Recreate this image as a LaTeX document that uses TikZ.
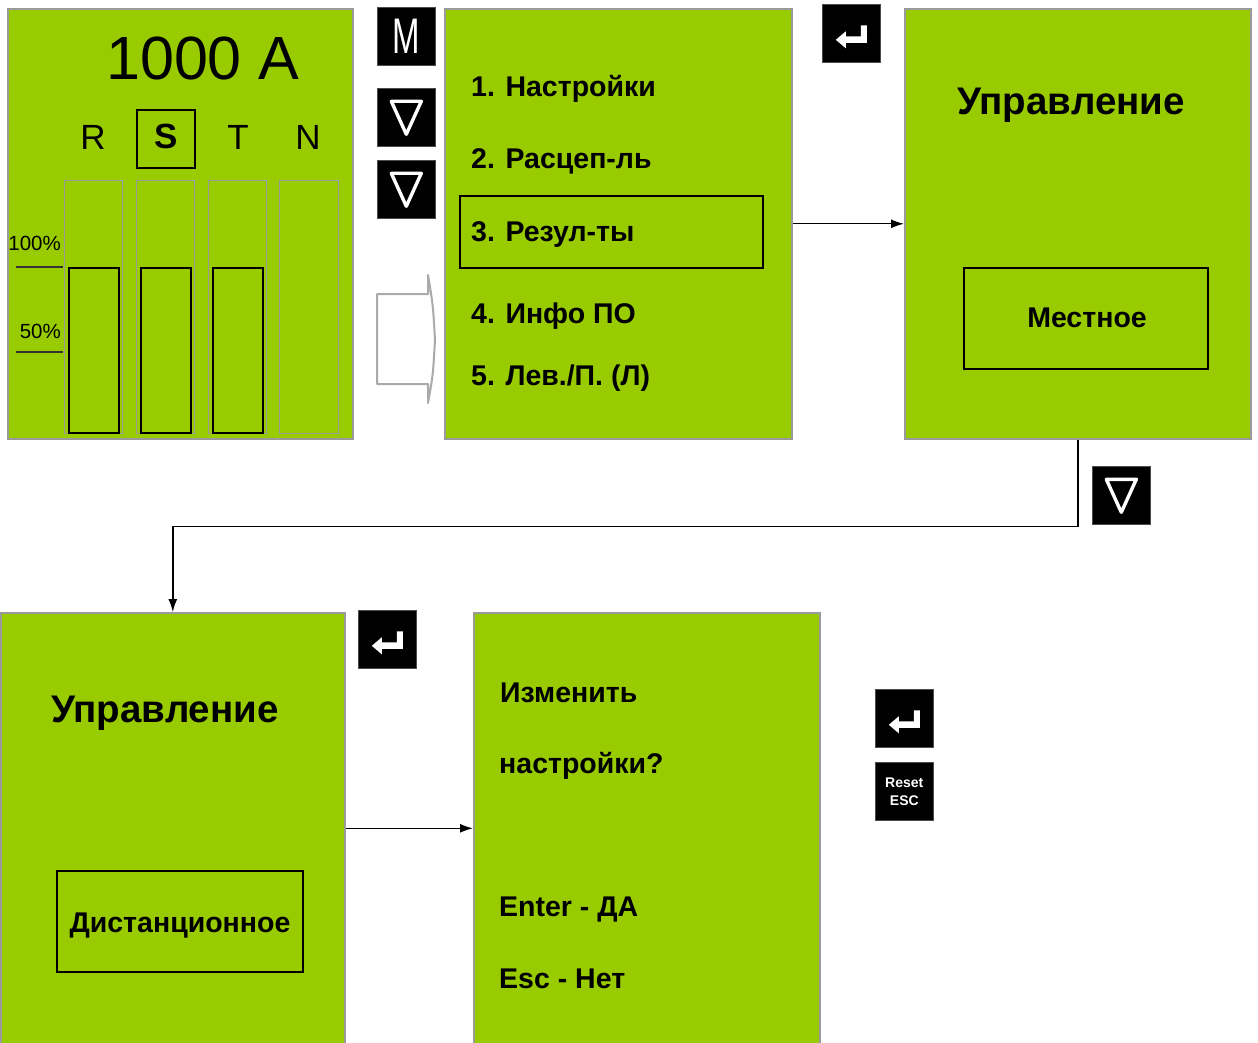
\documentclass[tikz,border=0pt]{standalone}
\usepackage{fontspec}
\setmainfont{Liberation Sans}
\usetikzlibrary{arrows.meta}
\definecolor{lcd}{HTML}{99CC00}
\definecolor{frame}{HTML}{9A9A9A}
\definecolor{hollow}{HTML}{AAAAAA}
\tikzset{
  x=1pt, y=-1pt,
  panel/.style={draw=frame, fill=lcd, line width=1.6pt, inner sep=0pt, anchor=north west},
  keybox/.style={fill=black, draw=black!70, line width=0.6pt, inner sep=0pt, minimum width=58pt, minimum height=58pt, anchor=north west},
  selbox/.style={draw=black, line width=1.6pt, inner sep=0pt, anchor=north west},
  graybar/.style={draw=frame, line width=1.4pt, inner sep=0pt, anchor=north west},
  blackbar/.style={draw=black, line width=1.6pt, inner sep=0pt, anchor=north west},
  txt/.style={inner sep=0pt, text=black},
  menu/.style={txt, anchor=base west, font=\bfseries\fontsize{28.5}{30}\selectfont},
  title/.style={txt, anchor=base west, font=\bfseries\fontsize{38.5}{40}\selectfont},
  phase/.style={txt, anchor=base, font=\fontsize{35}{36}\selectfont},
  pct/.style={txt, anchor=base east, font=\fontsize{20.5}{21}\selectfont},
  conn/.style={draw=black, line width=1.4pt, -{Latex[length=13pt,width=9pt]}},
  downsym/.pic={\draw[white, line width=3.4pt, line join=round] (-15,-16) -- (15,-16) -- (0,17) -- cycle;},
  entersym/.pic={\fill[white] (-15.5,6.5) -- (-5.5,-2) -- (-5.5,3) -- (9.5,3) -- (9.5,-8) -- (15.5,-8) -- (15.5,9.5) -- (-5.5,9.5) -- (-5.5,15) -- cycle;},
}
\begin{document}
\begin{tikzpicture}
\useasboundingbox[fill=white] (0,0) rectangle (1258,1043);

% ---------- panels ----------
\node[panel, minimum width=345pt, minimum height=430pt] (p1) at (7,8) {};
\node[panel, minimum width=347pt, minimum height=430pt] (p2) at (444,8) {};
\node[panel, minimum width=346pt, minimum height=430pt] (p3) at (904,8) {};
\node[panel, minimum width=344pt, minimum height=431pt] (p4) at (0,612) {};
\node[panel, minimum width=346pt, minimum height=431pt] (p5) at (473,612) {};

% ---------- panel 1 ----------
\node[txt, anchor=base west, font=\fontsize{61}{62}\selectfont] (amp) at (106,80) {1000 A};
\node[phase] (phR) at (93,150) {R};
\node[phase, font=\bfseries\fontsize{35}{36}\selectfont] (phS) at (166,149) {S};
\node[phase] (phT) at (238,150) {T};
\node[phase] (phN) at (308,150) {N};
\node[selbox, minimum width=58pt, minimum height=58pt] (sbox) at (136,109) {};

\node[graybar, minimum width=58pt, minimum height=253pt] (gR) at (64,180) {};
\node[graybar, minimum width=58pt, minimum height=253pt] (gS) at (136,180) {};
\node[graybar, minimum width=58pt, minimum height=253pt] (gT) at (208,180) {};
\node[graybar, minimum width=59pt, minimum height=253pt] (gN) at (279,180) {};
\node[blackbar, minimum width=50pt, minimum height=165pt] (bR) at (68,267) {};
\node[blackbar, minimum width=50pt, minimum height=165pt] (bS) at (140,267) {};
\node[blackbar, minimum width=50pt, minimum height=165pt] (bT) at (212,267) {};

\draw[black!80, line width=1.2pt] (16,267) -- (63,267);
\draw[black!80, line width=1.2pt] (16,352) -- (63,352);
\node[pct] (p100) at (61,251) {100\%};
\node[pct] (p50) at (61,338) {50\%};

% ---------- keys column ----------
\node[keybox] (kM) at (377,7) {};
\node[text=white, inner sep=0pt, font=\fontsize{50}{50}\selectfont, xscale=0.66] (kMt) at (kM.center) {M};
\node[keybox] (kD1) at (377,88) {};
\pic at (kD1.center) {downsym};
\node[keybox] (kD2) at (377,160) {};
\pic at (kD2.center) {downsym};

% hollow arrow symbol
\draw[hollow, fill=white, line width=2pt, line join=round]
  (428,294) -- (377,294) -- (377,384) -- (428,384) -- (428,403)
  .. controls (433,375) .. (435,340) .. controls (433,305) .. (428,275) -- cycle;

% ---------- panel 2 ----------
\node[selbox, minimum width=303pt, minimum height=72pt] (hl) at (459,195) {};
\node[menu] (m1) at (471,97) {1. Настройки};
\node[menu] (m2) at (471,169) {2. Расцеп-ль};
\node[menu] (m3) at (471,241) {3. Резул-ты};
\node[menu] (m4) at (471,323) {4. Инфо ПО};
\node[menu] (m5) at (471,385) {5. Лев./П. (Л)};

% ---------- panel 3 ----------
\node[keybox] (kE1) at (822,4) {};
\pic at (kE1.center) {entersym};
\node[title] (u1) at (957,115) {Управление};
\node[selbox, minimum width=244pt, minimum height=101pt] (loc) at (963,267) {};
\node[menu, anchor=base] (loct) at (1087,327) {Местное};

% ---------- transitions ----------
\node[keybox] (kD3) at (1092,466) {};
\pic at (kD3.center) {downsym};

% ---------- panel 4 ----------
\node[keybox] (kE2) at (358,610) {};
\pic at (kE2.center) {entersym};
\node[title] (u2) at (51,722) {Управление};
\node[selbox, minimum width=246pt, minimum height=101pt] (rem) at (56,870) {};
\node[menu, anchor=base] (remt) at (180,932) {Дистанционное};

% ---------- panel 5 ----------
\node[menu] (q1) at (500,702) {Изменить};
\node[menu] (q2) at (499,773) {настройки?};
\node[menu] (q3) at (499,916) {Enter - ДА};
\node[menu] (q4) at (499,988) {Esc - Нет};

\node[keybox] (kE3) at (875,689) {};
\pic at (kE3.center) {entersym};
\node[keybox] (kR) at (875,762) {};
\node[text=white, inner sep=0pt, align=center, font=\bfseries\fontsize{14}{18}\selectfont] (kRt) at (kR.center) {Reset\\ESC};

% ---------- connectors ----------
\draw[conn] (p2.east) -- (p3.west);
\draw[conn] (p3.south) -- ++(0,87) -| (p4.north);
\draw[conn] (p4.east) -- (p5.west);
\end{tikzpicture}
\end{document}
